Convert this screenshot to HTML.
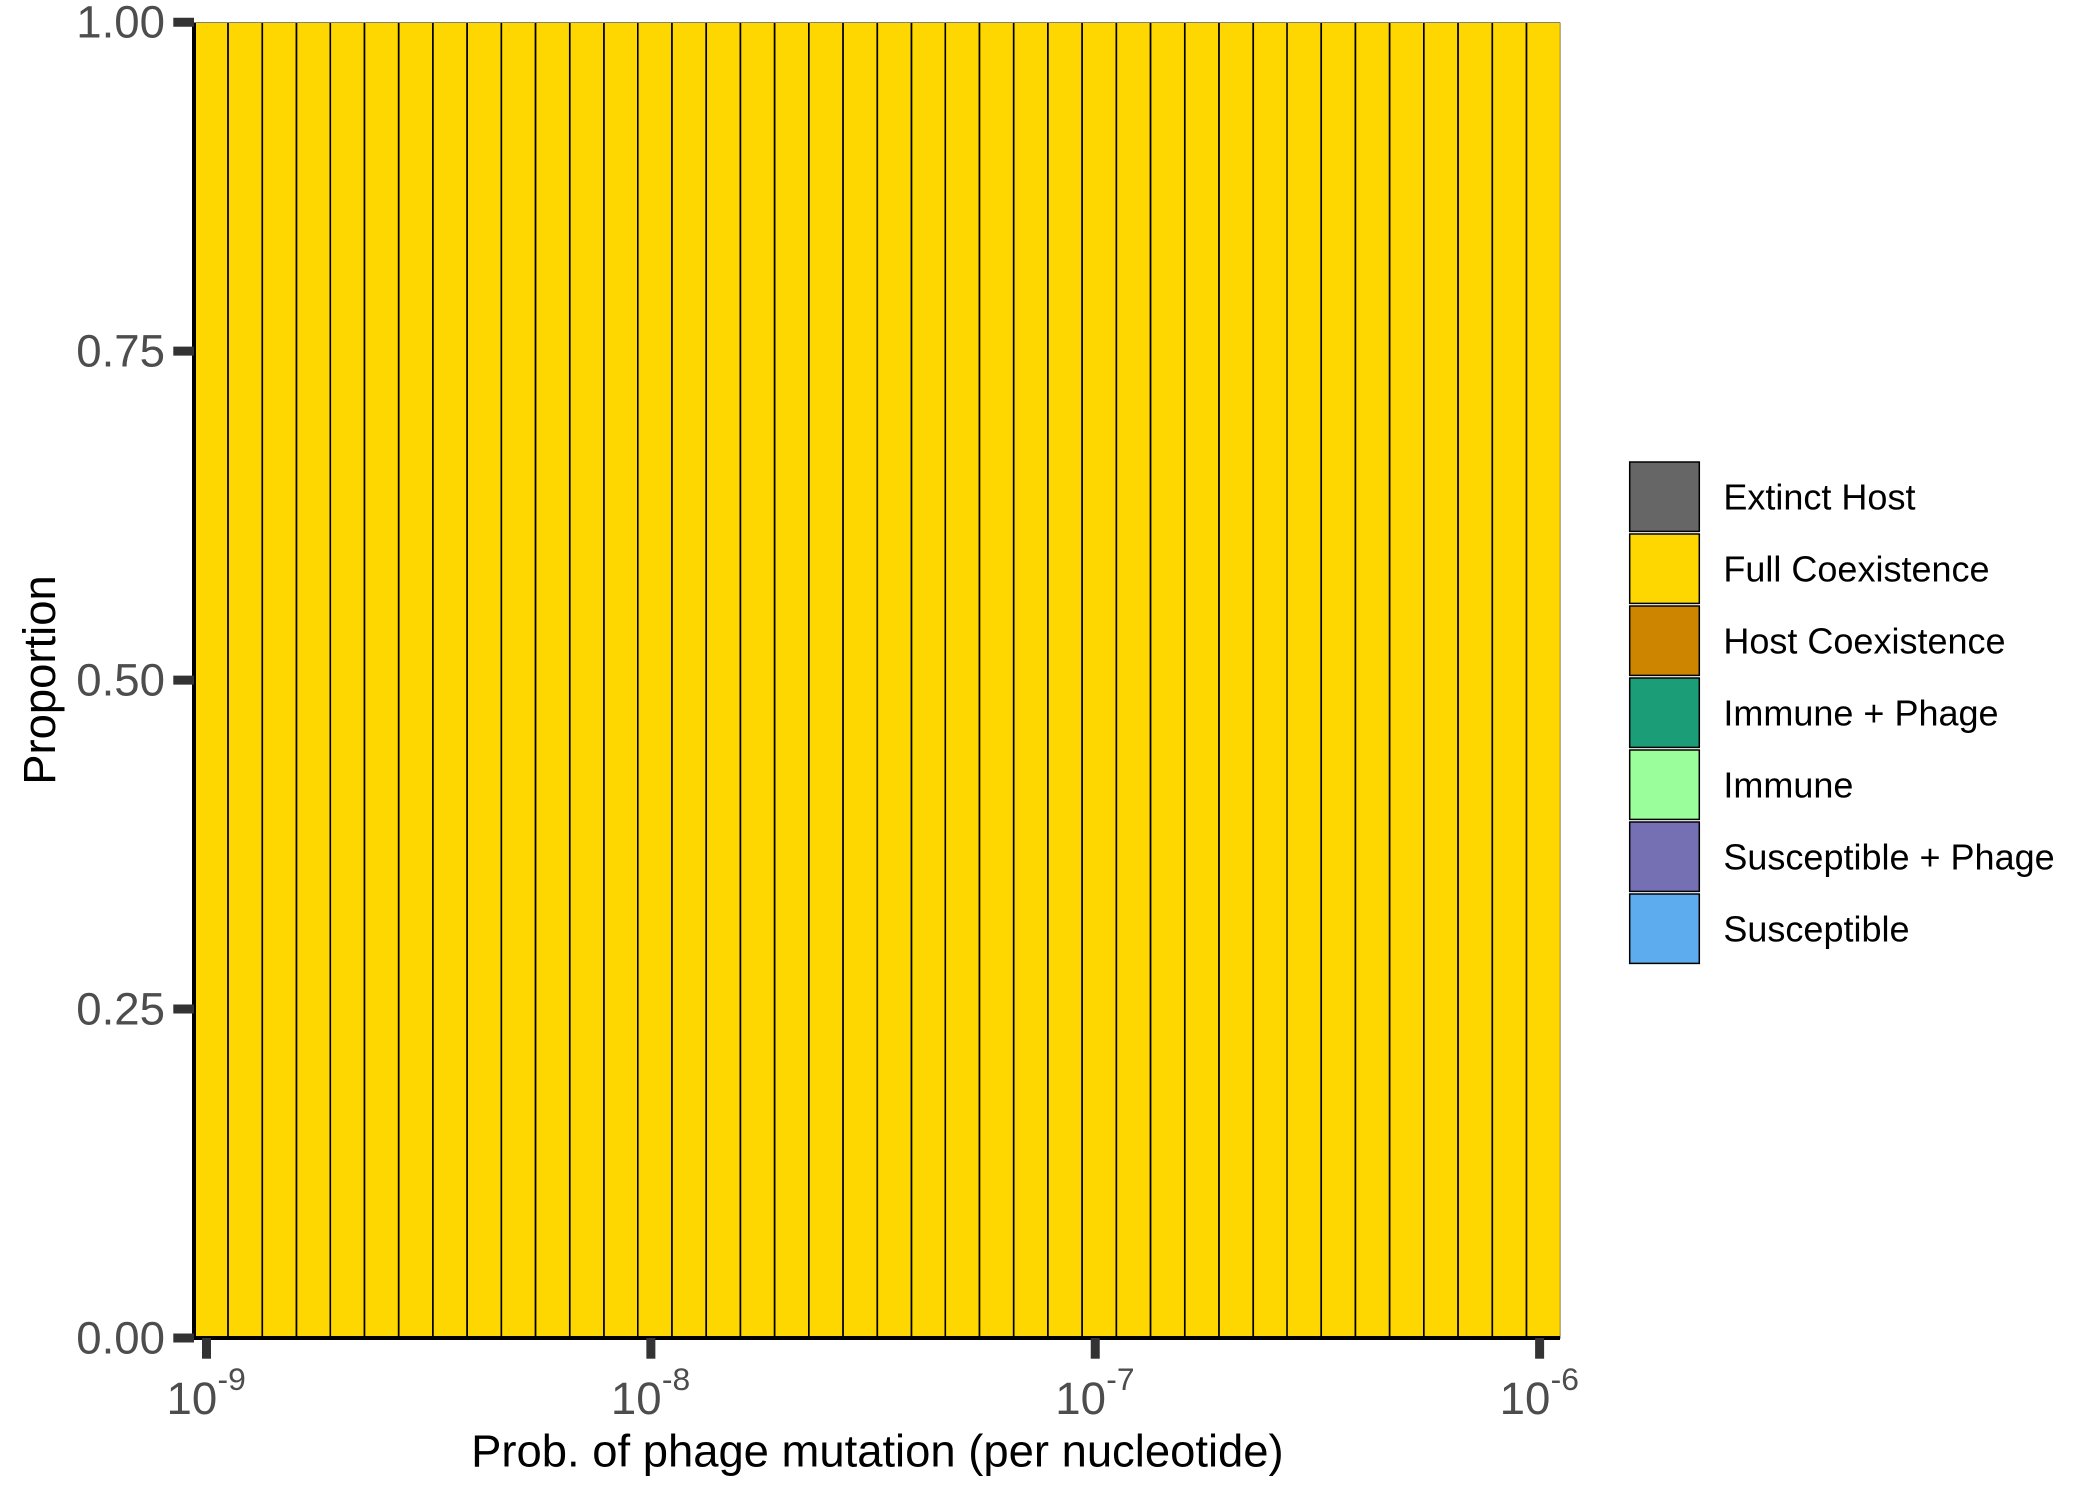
<!DOCTYPE html>
<html lang="en">
<head>
<meta charset="utf-8">
<title>Proportion by phage mutation probability</title>
<style>
html,body{margin:0;padding:0;background:#fff;width:2100px;height:1500px;overflow:hidden}
svg{display:block}
text{font-family:"Liberation Sans",Arial,sans-serif}
</style>
</head>
<body>
<svg id="chart" xmlns="http://www.w3.org/2000/svg" width="2100" height="1500" viewBox="0 0 2100 1500"><defs><clipPath id="panel-clip"><rect x="190" y="22.5" width="1370.3" height="1320"></rect></clipPath></defs></svg>
<script>
// Category values: log10 mutation probability at each bin centre
const logMutationBins = [-8.990,-8.913,-8.836,-8.759,-8.683,-8.606,-8.529,-8.452,-8.375,-8.298,
  -8.221,-8.144,-8.067,-7.991,-7.914,-7.837,-7.760,-7.683,-7.606,-7.529,
  -7.452,-7.375,-7.299,-7.222,-7.145,-7.068,-6.991,-6.914,-6.837,-6.760,
  -6.683,-6.606,-6.530,-6.453,-6.376,-6.299,-6.222,-6.145,-6.068,-5.991];

// Series values, one proportion per bin
const extinctHost       = [0,0,0,0,0,0,0,0,0,0,0,0,0,0,0,0,0,0,0,0,0,0,0,0,0,0,0,0,0,0,0,0,0,0,0,0,0,0,0,0];
const fullCoexistence   = [1,1,1,1,1,1,1,1,1,1,1,1,1,1,1,1,1,1,1,1,1,1,1,1,1,1,1,1,1,1,1,1,1,1,1,1,1,1,1,1];
const hostCoexistence   = [0,0,0,0,0,0,0,0,0,0,0,0,0,0,0,0,0,0,0,0,0,0,0,0,0,0,0,0,0,0,0,0,0,0,0,0,0,0,0,0];
const immunePhage       = [0,0,0,0,0,0,0,0,0,0,0,0,0,0,0,0,0,0,0,0,0,0,0,0,0,0,0,0,0,0,0,0,0,0,0,0,0,0,0,0];
const immune            = [0,0,0,0,0,0,0,0,0,0,0,0,0,0,0,0,0,0,0,0,0,0,0,0,0,0,0,0,0,0,0,0,0,0,0,0,0,0,0,0];
const susceptiblePhage  = [0,0,0,0,0,0,0,0,0,0,0,0,0,0,0,0,0,0,0,0,0,0,0,0,0,0,0,0,0,0,0,0,0,0,0,0,0,0,0,0];
const susceptible       = [0,0,0,0,0,0,0,0,0,0,0,0,0,0,0,0,0,0,0,0,0,0,0,0,0,0,0,0,0,0,0,0,0,0,0,0,0,0,0,0];

// Tick labels and legend labels
const yTickValues = [0, 0.25, 0.5, 0.75, 1];
const yTickLabels = ["0.00", "0.25", "0.50", "0.75", "1.00"];
const xTickExponents = [-9, -8, -7, -6];
const legendLabels = ["Extinct Host", "Full Coexistence", "Host Coexistence", "Immune + Phage", "Immune", "Susceptible + Phage", "Susceptible"];
const legendSlugs = ["extinct-host", "full-coexistence", "host-coexistence", "immune-phage", "immune", "susceptible-phage", "susceptible"];

const NS = "http://www.w3.org/2000/svg";
const svg = document.getElementById("chart");
const stateColors = ["#666666", "#FFD700", "#CD8500", "#1B9E77", "#9AFF9A", "#7570B3", "#5CACEE"];
const stateSeries = [extinctHost, fullCoexistence, hostCoexistence, immunePhage, immune, susceptiblePhage, susceptible];

const panel = {left: 194, right: 1559.2, top: 22.2, bottom: 1338};
const xScale = v => 206.5 + (v + 9) * 444.37;
const yScale = v => panel.bottom - v * (panel.bottom - panel.top);
const barWidth = (panel.right - panel.left) / logMutationBins.length;

function el(tag, attrs, parent) {
  const node = document.createElementNS(NS, tag);
  for (const k in attrs) node.setAttribute(k, attrs[k]);
  (parent || svg).appendChild(node);
  return node;
}

// Bars: stacked from the last state at the bottom upward
const barLayer = el("g", {"clip-path": "url(#panel-clip)"});


logMutationBins.forEach((bin, i) => {
  let cumulative = 0;
  for (let s = stateSeries.length - 1; s >= 0; s--) {
    const value = stateSeries[s][i];
    if (value <= 0) continue;
    const y0 = yScale(cumulative);
    const y1 = yScale(cumulative + value);
    cumulative += value;
    const bar = el("rect", {
      x: xScale(bin) - barWidth / 2,
      y: y1,
      width: barWidth,
      height: y0 - y1,
      fill: stateColors[s],
      stroke: "#000000",
      "stroke-width": 1.6
    }, barLayer);
    
    
  }
});

// Axis lines
const yAxisLine = el("line", {x1: 194, x2: 194, y1: 22.5, y2: 1340, stroke: "#000000", "stroke-width": 4});


const xAxisLine = el("line", {x1: 192, x2: 1560, y1: 1338, y2: 1338, stroke: "#000000", "stroke-width": 4});



// Y ticks and labels
yTickValues.forEach((v, i) => {
  const y = yScale(v);
  const tick = el("line", {x1: 173.3, x2: 194, y1: y, y2: y, stroke: "#333333", "stroke-width": 9});
  
  
  const label = el("text", {x: 165, y: y + 15.5, "text-anchor": "end", "font-size": 45.6, fill: "#4D4D4D"});
  label.textContent = yTickLabels[i];
  
  
});

// X ticks and labels
xTickExponents.forEach(exp => {
  const x = xScale(exp);
  const tick = el("line", {x1: x, x2: x, y1: 1338, y2: 1358.7, stroke: "#333333", "stroke-width": 9});
  
  
  const base = el("text", {x: x - 40, y: 1414, "font-size": 45.6, fill: "#4D4D4D"});
  base.textContent = "10";
  
  
  const sup = el("text", {x: x + 11, y: 1390, "font-size": 31.8, fill: "#4D4D4D"});
  sup.textContent = String(exp);
  
  
});

// Axis titles
const xTitle = el("text", {x: 877.4, y: 1466.7, "text-anchor": "middle", "font-size": 45.4, fill: "#000000"});
xTitle.textContent = "Prob. of phage mutation (per nucleotide)";


const yTitle = el("text", {x: 0, y: 0, "text-anchor": "middle", "font-size": 45.4, fill: "#000000", transform: "translate(55,680) rotate(-90)"});
yTitle.textContent = "Proportion";



// Legend
const legend = el("g", {});


legendLabels.forEach((name, i) => {
  const top = 462 + i * 72;
  const key = el("rect", {x: 1629.7, y: top, width: 69.6, height: 69.4, fill: stateColors[i], stroke: "#000000", "stroke-width": 1.5}, legend);
  
  
  const label = el("text", {x: 1723.4, y: 509.3 + i * 72, "font-size": 36, fill: "#000000"}, legend);
  label.textContent = name;
  
  
});
</script>
</body>
</html>
